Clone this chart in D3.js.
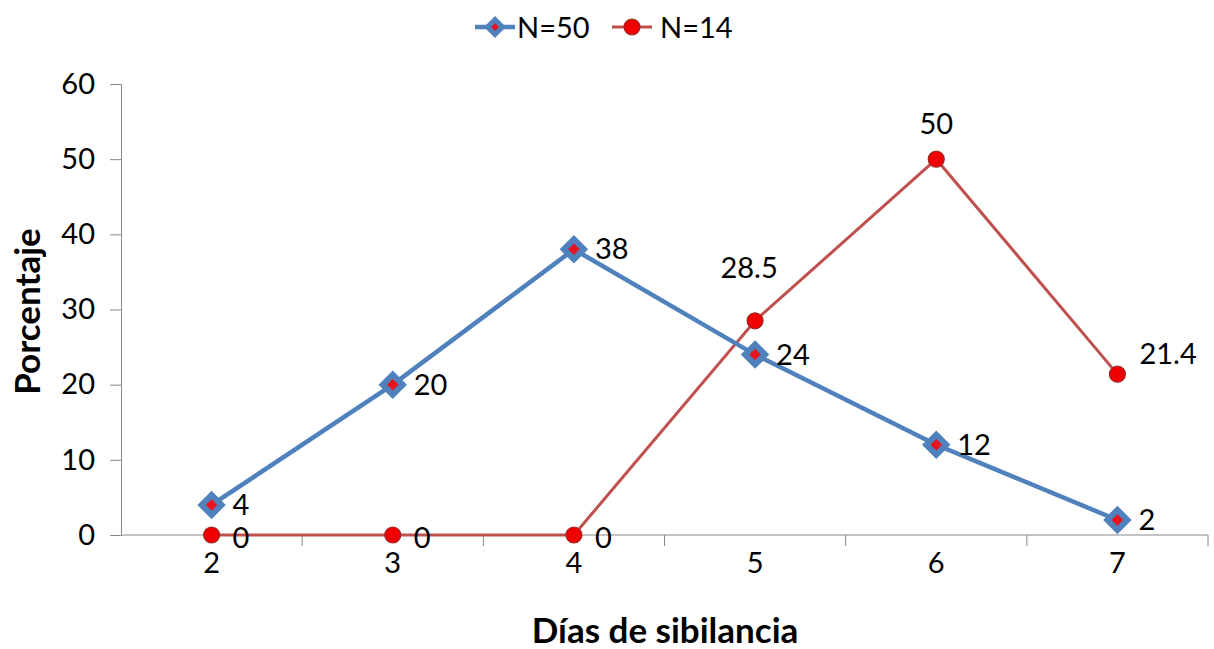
<!DOCTYPE html>
<html>
<head>
<meta charset="utf-8">
<script src="https://cdn.jsdelivr.net/npm/d3@7"></script>
<style>
  body { margin: 0; background: #fff; }
  svg text { font-family: Lato, "Open Sans", sans-serif; fill: #000; }
</style>
</head>
<body>
<div id="chart"></div>
<script>
const days = ["2", "3", "4", "5", "6", "7"];
const seriesNames = ["N=50", "N=14"];
const n50 = [4, 20, 38, 24, 12, 2];
const n14 = [0, 0, 0, 28.5, 50, 21.4];
const yTicks = [0, 10, 20, 30, 40, 50, 60];

const width = 1214;
const height = 649;
const margin = {top: 84, right: 6, bottom: 114, left: 121};
const fs = "29px";

const svg = d3.select("#chart")
    .append("svg")
    .attr("width", width)
    .attr("height", height);

const x = d3.scaleBand()
    .domain(days)
    .range([margin.left, width - margin.right]);

const y = d3.scaleLinear()
    .domain([0, 60])
    .range([height - margin.bottom, margin.top]);

const cx = d => x(d) + x.bandwidth() / 2;

// y axis
svg.append("g")
    .attr("transform", `translate(${margin.left},0)`)
    .call(d3.axisLeft(y).tickValues(yTicks).tickSize(11).tickPadding(15))
    .call(g => g.selectAll(".domain").attr("stroke", "#888"))
    .call(g => g.selectAll(".tick line").attr("stroke", "#888"))
    .call(g => g.selectAll("text").style("font-size", fs));

// x axis: ticks at band boundaries
const xg = svg.append("g")
    .attr("transform", `translate(0,${y(0)})`);
xg.append("line")
    .attr("x1", margin.left).attr("x2", width - margin.right)
    .attr("stroke", "#888");
xg.selectAll(".bound")
    .data(days.slice(1).concat(["end"]))
    .enter().append("line")
    .attr("x1", (d, i) => margin.left + (i + 1) * x.bandwidth())
    .attr("x2", (d, i) => margin.left + (i + 1) * x.bandwidth())
    .attr("y1", 0).attr("y2", 11)
    .attr("stroke", "#888");
xg.selectAll(".lbl")
    .data(days)
    .enter().append("text")
    .attr("x", d => cx(d))
    .attr("y", 38)
    .attr("text-anchor", "middle")
    .style("font-size", fs)
    .text(d => d);

// axis titles
svg.append("text")
    .attr("transform", `translate(40,${(margin.top + y(0)) / 2 + 2}) rotate(-90)`)
    .attr("text-anchor", "middle")
    .style("font-size", "35px")
    .style("font-weight", "bold")
    .text("Porcentaje");

svg.append("text")
    .attr("x", 665)
    .attr("y", 643)
    .attr("text-anchor", "middle")
    .style("font-size", "35px")
    .style("font-weight", "bold")
    .text("Días de sibilancia");

const line = d3.line().x((d, i) => cx(days[i])).y(d => y(d));
const diamond = d3.symbol().type(d3.symbolSquare).size(200);

// N=14 series (red)
svg.append("path")
    .datum(n14)
    .attr("d", line)
    .attr("fill", "none")
    .attr("stroke", "#C0504D")
    .attr("stroke-width", 3);

svg.selectAll(".red")
    .data(n14)
    .enter().append("circle")
    .attr("cx", (d, i) => cx(days[i]))
    .attr("cy", d => y(d))
    .attr("r", 8)
    .attr("fill", "#F00000")
    .attr("stroke", "#9B2A27")
    .attr("stroke-width", 1.2);

// N=50 series (blue)
svg.append("path")
    .datum(n50)
    .attr("d", line)
    .attr("fill", "none")
    .attr("stroke", "#4F81BD")
    .attr("stroke-width", 4.5);

svg.selectAll(".blue")
    .data(n50)
    .enter().append("path")
    .attr("d", diamond)
    .attr("transform", (d, i) => `translate(${cx(days[i])},${y(d)}) rotate(45)`)
    .attr("fill", "#E8141E")
    .attr("stroke", "#4F81BD")
    .attr("stroke-width", 6);

// data labels
svg.selectAll(".lbl50")
    .data(n50)
    .enter().append("text")
    .attr("x", (d, i) => cx(days[i]) + 21)
    .attr("y", d => y(d) + 10)
    .style("font-size", fs)
    .text(d => d);

const redOffsets = [[21, 13, "start"], [21, 13, "start"], [21, 13, "start"], [-6, -43, "middle"], [0, -25, "middle"], [22, -10, "start"]];
svg.selectAll(".lbl14")
    .data(n14)
    .enter().append("text")
    .attr("x", (d, i) => cx(days[i]) + redOffsets[i][0])
    .attr("y", d => y(d))
    .attr("dy", (d, i) => redOffsets[i][1])
    .attr("text-anchor", (d, i) => redOffsets[i][2])
    .style("font-size", fs)
    .text(d => d);

// legend
const legend = svg.append("g").attr("transform", "translate(475,27)");
const l1 = legend.append("g");
l1.append("line").attr("x1", 0).attr("x2", 40).attr("stroke", "#4F81BD").attr("stroke-width", 4.5);
l1.append("path").attr("d", d3.symbol().type(d3.symbolSquare).size(110))
    .attr("transform", "translate(20,0) rotate(45)")
    .attr("fill", "#E8141E").attr("stroke", "#4F81BD").attr("stroke-width", 5);
l1.append("text").attr("x", 42).attr("y", 11).style("font-size", fs).text(seriesNames[0]);

const l2 = legend.append("g").attr("transform", "translate(137,0)");
l2.append("line").attr("x1", 0).attr("x2", 40).attr("stroke", "#C0504D").attr("stroke-width", 3);
l2.append("circle").attr("cx", 20).attr("r", 8).attr("fill", "#F00000").attr("stroke", "#9B2A27").attr("stroke-width", 1.2);
l2.append("text").attr("x", 48).attr("y", 11).style("font-size", fs).text(seriesNames[1]);
</script>
</body>
</html>
